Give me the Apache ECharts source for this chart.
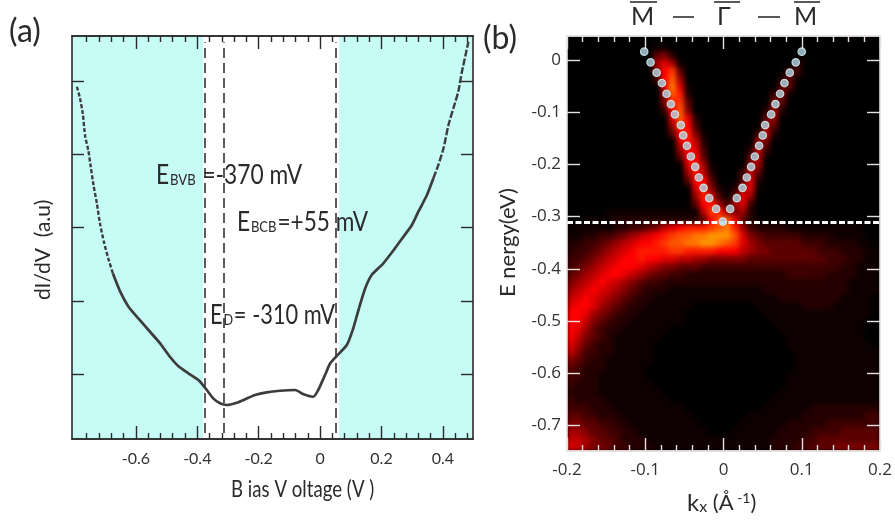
<!DOCTYPE html>
<html>
<head>
<meta charset="utf-8">
<script src="https://cdn.jsdelivr.net/npm/echarts@6/dist/echarts.min.js"></script>
<style>
html,body{margin:0;padding:0;background:#fff}
#chart{width:895px;height:529px;position:relative}
#chart canvas[data-zr-dom-id="zr_0"]{background:#000;filter:blur(2.8px);clip-path:inset(36px 15px 78px 567px)}
</style>
</head>
<body>
<div id="chart"></div>
<script>
// Panel (a): dI/dV spectrum
const biasV = [-0.792,-0.782,-0.773,-0.765,-0.755,-0.747,-0.738,-0.727,-0.717,-0.703,-0.690,-0.675,-0.651,-0.624,-0.592,-0.559,-0.521,-0.489,-0.462,-0.429,-0.396,-0.369,-0.348,-0.326,-0.304,-0.271,-0.244,-0.212,-0.174,-0.130,-0.081,-0.054,-0.022,-0.006,0.016,0.033,0.054,0.087,0.108,0.125,0.147,0.168,0.206,0.244,0.266,0.299,0.320,0.348,0.369,0.385,0.402,0.418,0.434,0.450,0.462,0.476,0.483];
const dIdV = [4.922,4.764,4.559,4.240,4.058,3.830,3.580,3.330,3.057,2.784,2.580,2.375,2.124,1.919,1.760,1.601,1.419,1.236,1.109,1.010,0.918,0.782,0.668,0.600,0.577,0.608,0.655,0.713,0.750,0.772,0.782,0.723,0.690,0.782,0.986,1.146,1.246,1.396,1.624,1.874,2.170,2.352,2.511,2.716,2.843,3.034,3.216,3.444,3.672,3.853,4.081,4.399,4.627,4.854,5.127,5.400,5.537];
const gapEdges = [-0.375,-0.313,0.052];
const cyanBands = [[-0.808,-0.381],[0.062,0.498]];
const aXMajor = [-0.6,-0.4,-0.2,0,0.2,0.4];
const aXMinor = [-0.76,-0.72,-0.68,-0.64,-0.56,-0.52,-0.48,-0.44,-0.36,-0.32,-0.28,-0.24,-0.16,-0.12,-0.08,-0.04,0.04,0.08,0.12,0.16,0.24,0.28,0.32,0.36,0.44,0.48];
const aYTicks = [1,2,3,4,5];

// Panel (b): band dispersion dots
const dotK = [-0.1013,-0.0932,-0.0855,-0.0787,-0.0728,-0.0672,-0.0621,-0.0545,-0.0515,-0.0468,-0.0417,-0.0362,-0.0315,-0.0255,-0.0183,-0.0094,-0.0009,0.0085,0.0170,0.0243,0.0298,0.0353,0.0400,0.0455,0.0502,0.0532,0.0609,0.0664,0.0723,0.0779,0.0847,0.0923,0.1000];
const dotE = [0.016,-0.0045,-0.0243,-0.0441,-0.0646,-0.0844,-0.1042,-0.1247,-0.1445,-0.1643,-0.1848,-0.2046,-0.2251,-0.2449,-0.2647,-0.2852,-0.3095,-0.2852,-0.2647,-0.2449,-0.2251,-0.2046,-0.1848,-0.1643,-0.1445,-0.1247,-0.1042,-0.0844,-0.0646,-0.0441,-0.0243,-0.0045,0.016];
const diracE = -0.31;
const bXMajor = [-0.2,-0.1,0,0.1,0.2];
const bXMinor = [-0.18,-0.16,-0.14,-0.12,-0.08,-0.06,-0.04,-0.02,0.02,0.04,0.06,0.08,0.12,0.14,0.16,0.18];
const bYTicks = [0,-0.1,-0.2,-0.3,-0.4,-0.5,-0.6,-0.7];

// ARPES intensity estimated by eye, one hex digit per cell (0 black .. f orange), top row first
const intensityRows = [
"0000000000 0000000000 0000000000 0000000000",
"0000000000 0110000000 0000000000 0000000000",
"0000000000 0452000000 0000000000 0000000000",
"0000000000 0686100000 0000000002 1000000000",
"0000000000 059b400000 0000000033 0000000000",
"0000000000 039c600000 0000000241 0000000000",
"0000000000 008d810000 0000000440 0000000000",
"0000000000 006ca20000 0000003510 0000000000",
"0000000000 005ab40000 0000005400 0000000000",
"0000000000 0039c50000 0000026200 0000000000",
"0000000000 0008c82000 0000046000 0000000000",
"0000000000 0006b93000 0000064000 0000000000",
"0000000000 00049a5100 0000372000 0000000000",
"0000000000 00008a7200 0000650000 0000000000",
"0000000000 0000698300 0002730000 0000000000",
"0000000000 0000499400 0004710000 0000000000",
"0000000000 000008a610 0006600000 0000000000",
"0000000000 000006a720 0037400000 0000000000",
"0000000000 0000049940 0048200000 0000000000",
"0000000000 0000008a52 0268100000 0000000000",
"0000000000 0000006a83 1486000000 0000000000",
"0000000000 00000049a6 3683000000 0000000000",
"0000011111 11111117ba 6562000000 0000000000",
"0011112222 222222249c c842100000 0000000000",
"1111112233 45789aaabc da63222211 1111111100",
"1122334567 89abccddee ec85433333 2222111100",
"2233456789 9abccddeed cb86544444 3332222110",
"233456789a aaabbaaaa9 9976554444 4433322211",
"334567899a 9988776655 5554444444 4443332211",
"3456789998 7655444333 3333333333 3333322111",
"4567899876 5443322222 2222222233 3332222111",
"5678987654 3322222222 2222222222 2222221111",
"6789876543 2221111111 1111122222 2222221111",
"7898765432 2111111111 1111111222 2222211110",
"8998654322 1111110000 0000111111 2222111110",
"9986543221 1111100000 0000011111 1111111110",
"9975432211 1111100000 0000001111 1111111100",
"9864322111 1110000000 0000000111 1111111100",
"9754321111 1100000000 0000000011 1111111100",
"8643221111 1000000000 0000000011 1111111110",
"7533221111 1000000000 0000000001 1111111111",
"5432211111 1000000000 0000000001 1111111111",
"4322211111 0000000000 0000000001 1111111111",
"3322111111 0000000000 0000000011 1111111111",
"3222111111 1000000000 0000000011 1111111111",
"2222111111 1100000000 0000000111 1111111111",
"3222211111 1110000000 0000001111 1111111111",
"3332221111 1111100000 0000011111 1222222222",
"4433222111 1111110000 0001111111 2222222233",
"5544332211 1111111000 0011111122 2223333333",
"6654433221 1111111100 0111111222 2333344444",
"7765443222 1111111111 1111112222 3344444444",
"8765543322 2111111111 1111112223 3444555555"
];
const heatColors = ['#000000','#0e0000','#240000','#3e0000','#5c0000','#7c0000','#a00000','#c00000','#e00000','#ff0000','#ff1a00','#ff3800','#ff5800','#ff7800','#ff9800','#ffb000'];

const heatData = [];
intensityRows.forEach((row, r) => {
  row.replace(/ /g, '').split('').forEach((ch, c) => heatData.push([c, r, parseInt(ch, 16)]));
});
const colCats = intensityRows[0].replace(/ /g, '').split('').map((_, i) => i);
const rowCats = intensityRows.map((_, i) => i);

const FONT = 'Lato';
const INK = '#2a2a2a';
const LIGHT = '#e6e0e0';
const Z = 1;

function hidden(gridIndex, extra) {
  return Object.assign({ gridIndex, zlevel: Z, axisLine: { show: false }, axisTick: { show: false }, axisLabel: { show: false }, splitLine: { show: false } }, extra);
}
function ax(gridIndex, range, position, ticks, len, color, labels, lblStyle) {
  return {
    type: 'value', gridIndex, zlevel: Z, z: 10, min: range[0], max: range[1], position,
    axisLine: { show: true, onZero: false, lineStyle: { color, width: 1.6 } },
    axisTick: { show: true, inside: true, length: len, customValues: ticks, lineStyle: { color, width: 1.4 } },
    axisLabel: labels ? Object.assign({ show: true, customValues: ticks, showMinLabel: true, showMaxLabel: true, hideOverlap: false }, lblStyle) : { show: false },
    splitLine: { show: false }
  };
}

const aX = [-0.808, 0.498], aY = [0.113, 5.614];
const bX = [-0.2, 0.2], bY = [-0.749, 0.046];
const aLbl = { fontFamily: FONT, fontSize: 16, color: '#333', margin: 12 };
const bXLbl = { fontFamily: 'Open Sans', fontSize: 17, color: '#333', margin: 11 };
const bYLbl = { fontFamily: 'Open Sans', fontSize: 17, color: '#333', margin: 6 };

const txt = (x, y, text, rich, scaleX) => ({
  type: 'text', x, y, scaleX: scaleX || 1, z: 100, zlevel: Z, silent: true,
  style: { text, rich, fill: INK, fontFamily: FONT }
});
const eRich = {
  e: { fontSize: 26, fontFamily: FONT, color: INK },
  s: { fontSize: 15, fontFamily: FONT, color: INK, padding: [8, 1, 0, 1] }
};
const plain = (size) => ({ p: { fontSize: size, fontFamily: FONT, color: INK } });
const rule = (x1, x2, y) => ({ type: 'line', z: 100, zlevel: Z, silent: true, shape: { x1, y1: y, x2, y2: y }, style: { stroke: '#222', lineWidth: 1.5 } });
const pair = (a, b) => a.map((v, i) => [v, b[i]]);

const option = {
  animation: false,
  backgroundColor: 'transparent',
  grid: [
    { left: 72, top: 36, width: 401, height: 403 },
    { left: 567, top: 36, width: 313, height: 415 },
    { left: 567, top: 36, width: 313, height: 415 }
  ],
  visualMap: { show: false, seriesIndex: 3, dimension: 2, min: 0, max: 15, inRange: { color: heatColors } },
  xAxis: [
    ax(0, aX, 'bottom', aXMajor, 13, INK, true, aLbl),
    ax(0, aX, 'bottom', aXMinor, 6, INK, false),
    ax(0, aX, 'top', aXMajor, 13, INK, false),
    ax(0, aX, 'top', aXMinor, 6, INK, false),
    hidden(1, { type: 'category', data: colCats, zlevel: 0, show: false }),
    ax(2, bX, 'bottom', bXMajor, 13, LIGHT, true, bXLbl),
    ax(2, bX, 'bottom', bXMinor, 6, LIGHT, false),
    ax(2, bX, 'top', bXMajor, 13, LIGHT, false),
    ax(2, bX, 'top', bXMinor, 6, LIGHT, false)
  ],
  yAxis: [
    ax(0, aY, 'left', aYTicks, 12, INK, false),
    ax(0, aY, 'right', aYTicks, 12, INK, false),
    hidden(1, { type: 'category', data: rowCats, inverse: true, zlevel: 0, show: false }),
    ax(2, bY, 'left', bYTicks, 13, LIGHT, true, bYLbl),
    ax(2, bY, 'right', bYTicks, 13, LIGHT, false)
  ],
  series: [
    {
      name: 'dI/dV upper left', type: 'line', xAxisIndex: 0, yAxisIndex: 0, zlevel: Z, silent: true, showSymbol: false, z: 5, smooth: 0.2,
      data: pair(biasV, dIdV).slice(0, 12),
      lineStyle: { color: '#3c3c3c', width: 2.4, type: [4, 2] },
      markArea: {
        zlevel: Z, z: 1, silent: true, itemStyle: { color: '#c7fbf5', opacity: 1 },
        data: cyanBands.map(b => [{ coord: [b[0], aY[0]] }, { coord: [b[1], aY[1]] }])
      },
      markLine: {
        zlevel: Z, z: 4, silent: true, symbol: 'none', label: { show: false },
        lineStyle: { color: '#333', width: 1.6, type: [10, 5] },
        data: gapEdges.map(v => [{ coord: [v, 0.195] }, { coord: [v, 5.53] }])
      }
    },
    {
      name: 'dI/dV centre', type: 'line', xAxisIndex: 0, yAxisIndex: 0, zlevel: Z, silent: true, showSymbol: false, z: 5, smooth: 0.2,
      data: pair(biasV, dIdV).slice(11, 49),
      lineStyle: { color: '#3c3c3c', width: 2.7 }
    },
    {
      name: 'dI/dV upper right', type: 'line', xAxisIndex: 0, yAxisIndex: 0, zlevel: Z, silent: true, showSymbol: false, z: 5, smooth: 0.2,
      data: pair(biasV, dIdV).slice(48),
      lineStyle: { color: '#3c3c3c', width: 2.4, type: [7, 2] }
    },
    {
      name: 'intensity', type: 'heatmap', xAxisIndex: 4, yAxisIndex: 2, zlevel: 0, silent: true, progressive: 0,
      data: heatData, emphasis: { disabled: true }
    },
    {
      name: 'dispersion', type: 'scatter', xAxisIndex: 5, yAxisIndex: 3, zlevel: Z, silent: true, z: 6,
      data: pair(dotK, dotE), symbolSize: 7.5,
      itemStyle: { color: '#b2d9e6', borderColor: '#dff1f6', borderWidth: 1.2 },
      markLine: {
        zlevel: Z, z: 5, silent: true, symbol: 'none', label: { show: false },
        lineStyle: { color: '#ffffff', width: 2.8, type: [6, 2.5] },
        data: [{ yAxis: diracE }]
      }
    }
  ],
  graphic: [
    txt(9, 16, '{p|(a)}', plain(32)),
    txt(483, 23, '{p|(b)}', plain(32)),
    txt(156, 163, '{e|E}{s|BVB}{e| =-370 mV}', eRich, 0.875),
    txt(237, 210, '{e|E}{s|BCB}{e|=+55 mV}', eRich, 0.87),
    txt(210, 303, '{e|E}{s|D}{e|= -310 mV}', eRich, 0.84),
    txt(231, 478, '{p|B ias V oltage (V )}', plain(23), 0.81),
    { type: 'text', z: 100, zlevel: Z, silent: true, rotation: Math.PI / 2, x: 33, y: 300, style: { text: 'dI/dV  (a.u)', fontFamily: FONT, fontSize: 21, fill: INK } },
    { type: 'text', z: 100, zlevel: Z, silent: true, rotation: Math.PI / 2, x: 497, y: 297, style: { text: 'E nergy(eV)', fontFamily: FONT, fontSize: 22, fill: INK } },
    txt(687, 491, '{k|k}{x|x}{a| (Å}{u| -1}{a|)}', {
      k: { fontSize: 24, fontFamily: FONT, color: INK },
      x: { fontSize: 16, fontFamily: FONT, color: INK, padding: [8, 0, 0, 0] },
      a: { fontSize: 22, fontFamily: FONT, color: INK },
      u: { fontSize: 14, fontFamily: FONT, color: INK, padding: [0, 0, 9, 0] }
    }),
    txt(631, 4, '{p|M}', plain(25)),
    txt(717, 4, '{p|Γ}', plain(25)),
    txt(794, 4, '{p|M}', plain(25)),
    rule(630, 657, 2), rule(714, 740, 2), rule(794, 820, 2),
    rule(673, 694, 17), rule(758, 780, 17)
  ]
};

const chart = echarts.init(document.getElementById('chart'), null, { renderer: 'canvas', width: 895, height: 529 });
chart.setOption(option);
</script>
</body>
</html>
